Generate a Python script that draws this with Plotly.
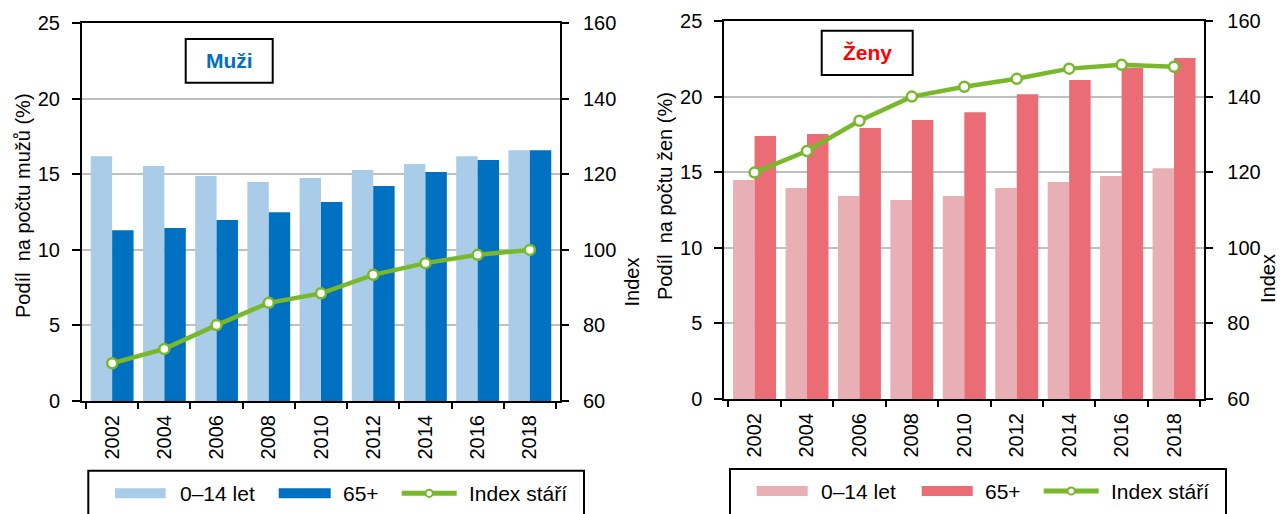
import plotly.graph_objects as go

# ---------------- data ----------------
years = ["2002", "2004", "2006", "2008", "2010", "2012", "2014", "2016", "2018"]

men_0_14 = [16.2, 15.55, 14.9, 14.5, 14.76, 15.29, 15.68, 16.2, 16.6]
men_65 = [11.3, 11.45, 11.98, 12.5, 13.17, 14.23, 15.16, 15.95, 16.6]
men_index = [70.0, 73.8, 80.1, 86.0, 88.5, 93.4, 96.5, 98.7, 100.0]

women_0_14 = [14.48, 13.95, 13.43, 13.16, 13.43, 13.95, 14.35, 14.75, 15.26]
women_65 = [17.39, 17.53, 17.92, 18.45, 18.96, 20.15, 21.1, 21.9, 22.55]
women_index = [119.9, 125.6, 133.6, 140.0, 142.6, 144.7, 147.4, 148.4, 147.9]

series_names = ["0\u201314 let", "65+", "Index stáří"]
panel_titles = ["Muži", "Ženy"]
y_titles = ["Podíl\u00a0 na počtu mužů (%)", "Podíl\u00a0 na počtu žen (%)"]
y2_title = "Index"

# ---------------- style ----------------
FONT = "Liberation Sans, Arial, sans-serif"
W, H = 1281, 514
C_MEN_LIGHT = "#A9CDE8"
C_MEN_DARK = "#0070C0"
C_WOM_LIGHT = "#E8B0B4"
C_WOM_DARK = "#EA6C75"
C_GREEN = "#78B82A"
TITLE_COLORS = ["#0070C0", "#FF0000"]


def px(x):
    return x / W


def py(y):
    return 1 - y / H


fig = go.Figure()

panels = [
    dict(xa="x", ya="y", ya2="y2", light=men_0_14, dark=men_65, idx=men_index,
         cl=C_MEN_LIGHT, cd=C_MEN_DARK),
    dict(xa="x2", ya="y3", ya2="y4", light=women_0_14, dark=women_65, idx=women_index,
         cl=C_WOM_LIGHT, cd=C_WOM_DARK),
]

for p in panels:
    fig.add_trace(go.Bar(x=years, y=p["light"], name=series_names[0], xaxis=p["xa"], yaxis=p["ya"],
                         marker=dict(color=p["cl"], line=dict(width=0)), showlegend=False))
    fig.add_trace(go.Bar(x=years, y=p["dark"], name=series_names[1], xaxis=p["xa"], yaxis=p["ya"],
                         marker=dict(color=p["cd"], line=dict(width=0)), showlegend=False))
    fig.add_trace(go.Scatter(x=years, y=p["idx"], name=series_names[2], xaxis=p["xa"], yaxis=p["ya2"],
                             mode="lines+markers",
                             line=dict(color=C_GREEN, width=4.5),
                             marker=dict(size=10, color="white", line=dict(color=C_GREEN, width=2.5)),
                             showlegend=False))

# plot area geometry (pixels)
areas = [
    dict(x0=82, x1=560, y0=23.3, y1=401),
    dict(x0=724.3, x1=1204.3, y0=21, y1=399),
]

axis_common = dict(showline=True, linecolor="black", linewidth=2, tickcolor="black", tickwidth=2,
                   automargin=False,
                   tickfont=dict(family=FONT, size=20, color="black"))


def xaxis_cfg(a, anchor):
    return dict(domain=[px(a["x0"]), px(a["x1"])], anchor=anchor, type="category",
                tickson="boundaries", ticks="outside", ticklen=6, tickangle=-90,
                mirror=True, showgrid=False, ticklabelstandoff=4, **axis_common)


def yaxis_cfg(a, anchor):
    return dict(domain=[py(a["y1"]), py(a["y0"])], anchor=anchor, range=[0, 25], dtick=5,
                ticks="outside", ticklen=8, showgrid=True, gridcolor="#BFBFBF", gridwidth=1.5,
                zeroline=False, ticklabelstandoff=8, **axis_common)


def y2axis_cfg(anchor, overlay):
    return dict(overlaying=overlay, anchor=anchor, side="right", range=[60, 160], dtick=20,
                ticks="outside", ticklen=7, showgrid=False, zeroline=False,
                ticklabelstandoff=10, **axis_common)


fig.update_layout(
    width=W, height=H,
    margin=dict(l=0, r=0, t=0, b=0, pad=0, autoexpand=False),
    paper_bgcolor="white", plot_bgcolor="white",
    barmode="group", bargap=0.18, bargroupgap=0,
    showlegend=False,
    font=dict(family=FONT, color="black"),
    xaxis=xaxis_cfg(areas[0], "y"),
    yaxis=yaxis_cfg(areas[0], "x"),
    yaxis2=y2axis_cfg("x", "y"),
    xaxis2=xaxis_cfg(areas[1], "y3"),
    yaxis3=yaxis_cfg(areas[1], "x2"),
    yaxis4=y2axis_cfg("x2", "y3"),
)

shapes = []
annotations = []

# panel title boxes
title_boxes = [
    dict(x0=185.7, x1=272.7, y0=39, y1=82.7),
    dict(x0=821.7, x1=912.7, y0=30.7, y1=75),
]
for i, b in enumerate(title_boxes):
    shapes.append(dict(type="rect", xref="paper", yref="paper",
                       x0=px(b["x0"]), x1=px(b["x1"]), y0=py(b["y1"]), y1=py(b["y0"]),
                       line=dict(color="black", width=2), fillcolor="white", layer="above"))
    annotations.append(dict(xref="paper", yref="paper", x=px((b["x0"] + b["x1"]) / 2),
                            y=py((b["y0"] + b["y1"]) / 2), text="<b>%s</b>" % panel_titles[i],
                            showarrow=False, xanchor="center", yanchor="middle",
                            font=dict(family=FONT, size=21, color=TITLE_COLORS[i])))

# axis titles
ytitle_pos = [(23, 206), (665, 196)]
for i in range(2):
    annotations.append(dict(xref="paper", yref="paper", x=px(ytitle_pos[i][0]), y=py(ytitle_pos[i][1]),
                            text=y_titles[i], textangle=-90, showarrow=False,
                            xanchor="center", yanchor="middle",
                            font=dict(family=FONT, size=20, color="black")))
annotations.append(dict(xref="paper", yref="paper", x=px(631.5), y=py(282),
                        text=y2_title, textangle=-90, showarrow=False,
                        xanchor="center", yanchor="middle",
                        font=dict(family=FONT, size=20, color="black")))
annotations.append(dict(xref="paper", yref="paper", x=1.0, y=py(279),
                        text=y2_title, textangle=-90, showarrow=False,
                        xanchor="right", yanchor="middle",
                        font=dict(family=FONT, size=20, color="black")))

# manual legends
legends = [
    dict(box=(88.3, 584, 470.7), cy=493.3,
         sw=[(115, 165.7), (278.7, 330.7), (401.7, 456.7)], tx=[179, 342.3, 467.7],
         colors=[C_MEN_LIGHT, C_MEN_DARK]),
    dict(box=(730, 1226, 469), cy=491,
         sw=[(756.7, 807.7), (921.7, 972.7), (1043.7, 1098.7)], tx=[820, 984.3, 1110.3],
         colors=[C_WOM_LIGHT, C_WOM_DARK]),
]
for lg in legends:
    bx0, bx1, by0 = lg["box"]
    shapes.append(dict(type="rect", xref="paper", yref="paper",
                       x0=px(bx0), x1=px(bx1), y0=py(H + 10), y1=py(by0),
                       line=dict(color="black", width=2), fillcolor="rgba(0,0,0,0)"))
    cy = lg["cy"]
    for k in range(2):
        s0, s1 = lg["sw"][k]
        shapes.append(dict(type="rect", xref="paper", yref="paper",
                           x0=px(s0), x1=px(s1), y0=py(cy + 5), y1=py(cy - 5),
                           line=dict(width=0), fillcolor=lg["colors"][k]))
    s0, s1 = lg["sw"][2]
    shapes.append(dict(type="line", xref="paper", yref="paper",
                       x0=px(s0), x1=px(s1), y0=py(cy), y1=py(cy),
                       line=dict(color=C_GREEN, width=5)))
    mx = (s0 + s1) / 2
    shapes.append(dict(type="circle", xref="paper", yref="paper",
                       x0=px(mx - 3.6), x1=px(mx + 3.6), y0=py(cy + 3.6), y1=py(cy - 3.6),
                       line=dict(color=C_GREEN, width=2), fillcolor="white"))
    for k in range(3):
        annotations.append(dict(xref="paper", yref="paper", x=px(lg["tx"][k] - 1), y=py(cy),
                                text=series_names[k], showarrow=False,
                                xanchor="left", yanchor="middle",
                                font=dict(family=FONT, size=21, color="black")))

fig.update_layout(shapes=shapes, annotations=annotations)

post = "document.body.style.margin='0';document.body.style.overflow='hidden';"
fig.write_html("out.html", post_script=post, config={"displayModeBar": False})
